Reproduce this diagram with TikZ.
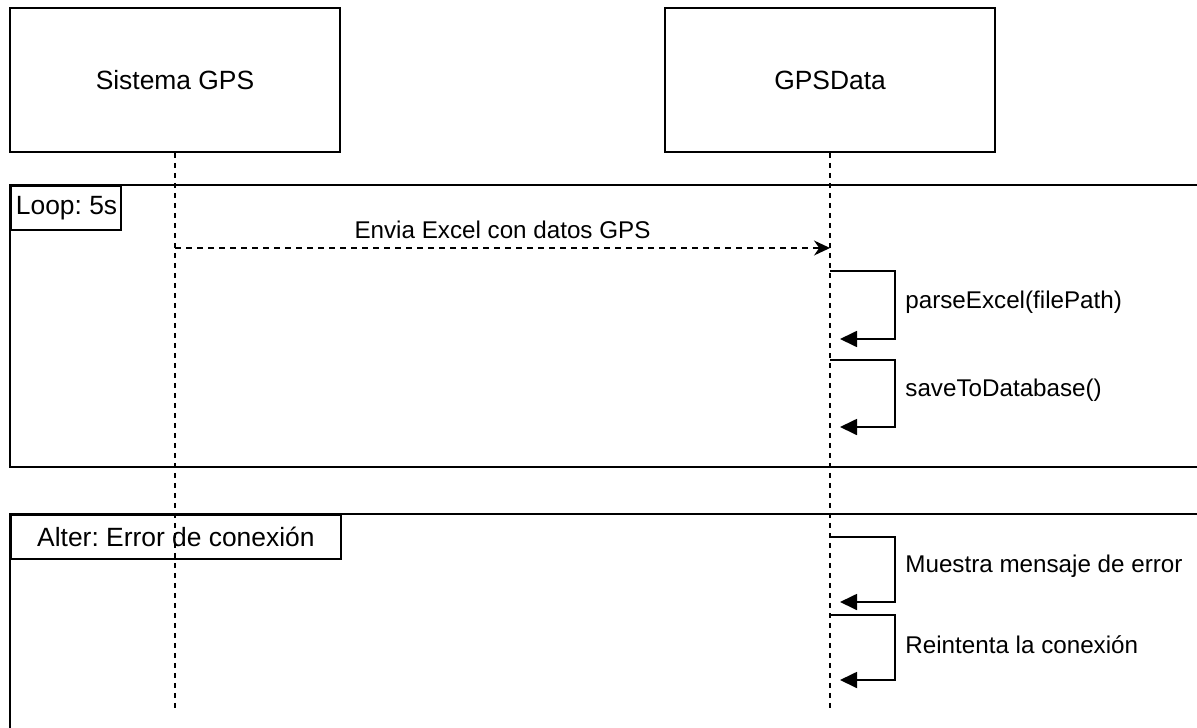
\documentclass[tikz,border=0pt]{standalone}
\usepackage{fontspec}
\setmainfont{Liberation Sans}
\frenchspacing
\usetikzlibrary{arrows.meta,positioning,calc}
\tikzset{
  actor-style/.style = {
    rectangle, draw, line width=0.8pt,
    minimum width=165pt,
    minimum height=72pt,
    inner sep=0pt, font=\fontsize{13.2}{15}\selectfont
  },
  life-style/.style = {
    draw, line width=0.9pt, dash pattern=on 2.5pt off 2.5pt
  },
  frame-style/.style = {
    draw, line width=0.9pt
  },
  tag-style/.style = {
    rectangle, draw, line width=0.9pt, anchor=north west,
    minimum height=#1, inner sep=0pt, font=\fontsize{13.2}{15}\selectfont
  },
  tag-style/.default = 22pt,
  msg-style/.style = {
    draw, line width=0.7pt, dash pattern=on 3pt off 2.5pt,
    -{Stealth[length=8pt,width=7.5pt]}
  },
  self-style/.style = {
    draw, line width=0.9pt, -{Triangle[length=8.5pt,width=8pt]}
  },
  text-style/.style = {
    inner sep=0pt, font=\fontsize{12.1}{14}\selectfont
  }
}
\def\createSelfCall name:#1 from:#2 top:#3 bottom:#4 text:#5;{
  \coordinate (#1-a) at (#2 |- 0,#3);
  \coordinate (#1-b) at ([xshift=5pt]#2 |- 0,#4);
  \path (#1-a) edge[self-style, to path={-- ++(65,0) |- (\tikztotarget)}] (#1-b);
  \node [text-style, anchor=west] (#1) at (905,{(#3+#4)/2-3}) {#5};
}

\begin{document}
\begin{tikzpicture}[x=0.5pt,y=-0.5pt]
  \clip (0,0) rectangle (1197,727);

  % actors
  \node [actor-style] (gps) at (175,80) {Sistema GPS};
  \node [actor-style] (data) at (830,80) {GPSData};

  % frames
  \path[frame-style] (10,185) rectangle (1210,467);
  \node [tag-style, minimum width=55pt, inner xsep=2.5pt] (loop) at (10,185)
        {\makebox[50pt][l]{Loop: 5s}};
  \path[frame-style] (10,514) rectangle (1210,740);
  \node [tag-style=22pt, minimum width=165pt] (alter) at (10,514)
        {Alter: Error de conexión};

  % lifelines
  \coordinate (gps-end) at (gps.south |- 0,710);
  \coordinate (data-end) at (data.south |- 0,710);
  \path[life-style] (gps.south) -- (gps-end);
  \path[life-style] (data.south) -- (data-end);

  % messages
  \coordinate (send-a) at (gps.south |- 0,248);
  \coordinate (send-b) at (data.south |- 0,248);
  \path (send-a) edge[msg-style] node[text-style, above=4.5pt] (send) {Envia Excel con datos GPS} (send-b);

  \createSelfCall name:parse from:data.south top:271 bottom:339 text:{parseExcel(filePath)};
  \createSelfCall name:save from:data.south top:360 bottom:427 text:{saveToDatabase()};
  \createSelfCall name:error from:data.south top:537 bottom:602 text:{Muestra mensaje de error};
  \createSelfCall name:retry from:data.south top:615 bottom:680 text:{Reintenta la conexión};
\end{tikzpicture}
\end{document}
